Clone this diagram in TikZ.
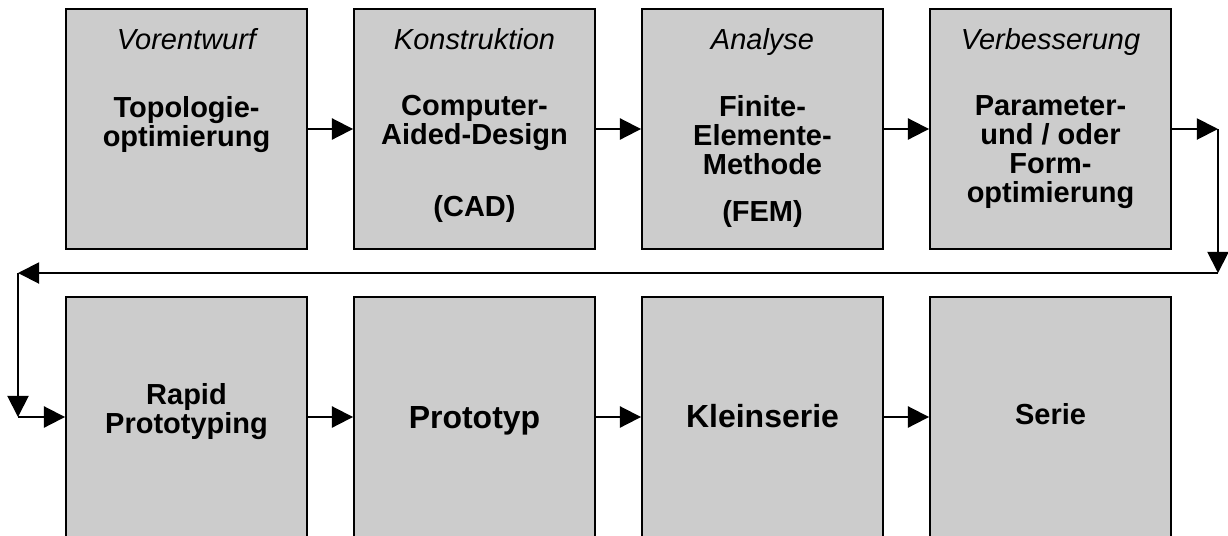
\documentclass[tikz,border=0pt]{standalone}
\usepackage{fontspec}
\setmainfont{Liberation Sans}
\usetikzlibrary{arrows.meta}

\colorlet{boxgray}{black!20}

\tikzset{
  stufe/.style={draw, line width=1.1pt, fill=boxgray, minimum width=4.82cm, minimum height=4.8cm, inner sep=0pt},
  kopf/.style={font=\fontsize{16.5}{16.4}\selectfont\itshape, anchor=base},
  inhalt/.style={font=\fontsize{16.5}{16.4}\selectfont\bfseries, align=center, anchor=base},
  gross/.style={font=\fontsize{18.2}{18}\selectfont\bfseries, anchor=base},
  pfeil/.style={->, line width=1.1pt}
}

\begin{document}
\begin{tikzpicture}[x=0.02cm, y=-0.02cm, >={Triangle[length=12pt, width=12pt]}]

    % Bildausschnitt (untere Kästen sind abgeschnitten)
    \path[use as bounding box, clip] (0,0) rectangle (1228,535);

    % 1. Obere Reihe
    \node[stufe] (topo)  at (186.5,129) {};
    \node[stufe] (cad)   at (474.5,129) {};
    \node[stufe] (fem)   at (762.5,129) {};
    \node[stufe] (optim) at (1050.5,129) {};

    % 2. Untere Reihe
    \node[stufe] (rp)    at (186.5,417) {};
    \node[stufe] (proto) at (474.5,417) {};
    \node[stufe] (klein) at (762.5,417) {};
    \node[stufe] (serie) at (1050.5,417) {};

    % 3. Beschriftungen oben (Grundlinie der letzten Zeile)
    \node[kopf] (topoK)  at (186.5,49) {Vorentwurf};
    \node[kopf] (cadK)   at (474.5,49) {Konstruktion};
    \node[kopf] (femK)   at (762.5,49) {Analyse};
    \node[kopf] (optimK) at (1050.5,49) {Verbesserung};

    \node[inhalt] (topoT)  at (186.5,146) {Topologie-\\optimierung};
    \node[inhalt] (cadT)   at (474.5,216) {Computer-\\Aided-Design\\[0.86cm](CAD)};
    \node[inhalt] (femT)   at (762.5,221) {Finite-\\Elemente-\\Methode\\[0.36cm](FEM)};
    \node[inhalt] (optimT) at (1050.5,202) {Parameter-\\und / oder\\Form-\\optimierung};

    % 4. Beschriftungen unten
    \node[inhalt] (rpT)    at (186.5,433) {Rapid\\Prototyping};
    \node[gross]  (protoT) at (474.5,428) {Prototyp};
    \node[gross]  (kleinT) at (762.5,427) {Kleinserie};
    \node[inhalt] (serieT) at (1050.5,424) {Serie};

    % 5. Rücksprung nach unten links
    \coordinate (r1) at (1218,129);
    \coordinate (r2) at (1218,273);
    \coordinate (r3) at (18,273);
    \coordinate (r4) at (18,417);

    % 6. Pfeile
    \draw[pfeil] (topo) -- (cad);
    \draw[pfeil] (cad) -- (fem);
    \draw[pfeil] (fem) -- (optim);
    \draw[pfeil] (optim) -- (r1);
    \draw[pfeil] (r1) -- (r2);
    \draw[pfeil] (r2) -- (r3);
    \draw[pfeil] (r3) -- (r4);
    \draw[pfeil] (r4) -- (rp);
    \draw[pfeil] (rp) -- (proto);
    \draw[pfeil] (proto) -- (klein);
    \draw[pfeil] (klein) -- (serie);

\end{tikzpicture}
\end{document}
